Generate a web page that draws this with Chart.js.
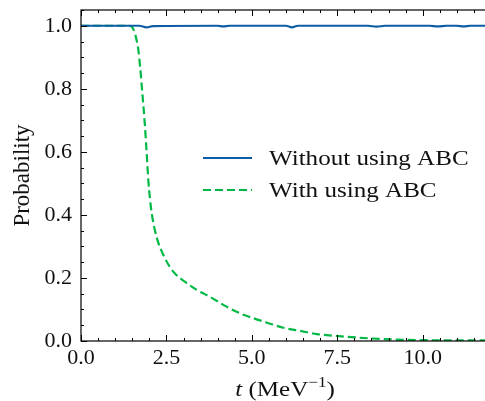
<!DOCTYPE html>
<html>
<head>
<meta charset="utf-8">
<script src="https://cdn.jsdelivr.net/npm/chart.js@4/dist/chart.umd.min.js"></script>
<style>
  html, body { margin: 0; padding: 0; background: #fff; overflow: hidden; }
  #wrap { width: 500px; height: 401px; }
</style>
</head>
<body>
<div id="wrap"><canvas id="probChart" width="500" height="401"></canvas></div>
<script>
// data
const tBlue = [0, 1.7, 1.92, 2.1, 4.0, 4.16, 4.35, 6.0, 6.17, 6.35, 8.4, 8.65, 8.9, 10.2, 10.45, 10.7, 11.0, 11.2, 11.4, 12]
const pBlue = [1.0, 1.0, 0.995, 0.999, 1.0, 0.998, 1.0, 1.0, 0.995, 1.0, 1.0, 0.997, 1.0, 1.0, 0.998, 1.0, 1.0, 0.998, 1.0, 1.0]

const tGreen = [0, 1.4, 1.5, 1.58, 1.68, 1.73, 1.8, 1.86, 1.92, 1.97, 2.02, 2.07, 2.21, 2.46, 2.7, 3.04, 3.39, 3.78, 4.26, 4.65, 5.0, 5.45, 5.92, 6.41, 6.9, 7.48, 8.07, 8.85, 9.82, 11.3, 12]
const pGreen = [1.0, 1.0, 0.995, 0.975, 0.922, 0.87, 0.78, 0.7, 0.6, 0.51, 0.45, 0.405, 0.331, 0.262, 0.22, 0.188, 0.162, 0.14, 0.109, 0.088, 0.074, 0.058, 0.042, 0.032, 0.022, 0.016, 0.011, 0.006, 0.003, 0.002, 0.002]

const xTicks = [0, 2.5, 5, 7.5, 10]
const yTicks = [0, 0.2, 0.4, 0.6, 0.8, 1.0]
const seriesLabels = ['Without using ABC', 'With using ABC']

const FONT = '"Liberation Serif", "Times New Roman", serif'
const STRETCH = 1.14 // Computer Modern is wider than Times

const toPoints = (xs, ys) => xs.map((x, i) => ({ x, y: ys[i] }))

// inside ticks on all four sides + frame
const frameTicks = {
  id: 'frameTicks',
  afterDatasetsDraw(chart) {
    const { ctx, chartArea: a, scales } = chart
    const xs = scales.x
    const ys = scales.y
    ctx.save()
    ctx.strokeStyle = '#000'
    ctx.lineWidth = 1.2
    ctx.strokeRect(a.left, a.top, a.right - a.left, a.bottom - a.top)

    const tick = (x1, y1, x2, y2) => {
      ctx.beginPath()
      ctx.moveTo(x1, y1)
      ctx.lineTo(x2, y2)
      ctx.stroke()
    }
    ctx.lineWidth = 1
    for (let v = xs.min; v <= xs.max + 1e-9; v += 0.5) {
      const px = Math.round(xs.getPixelForValue(v)) + 0.5
      const major = Math.abs(v / 2.5 - Math.round(v / 2.5)) < 1e-6
      const len = major ? 6 : 3
      tick(px, a.bottom, px, a.bottom - len)
      tick(px, a.top, px, a.top + len)
    }
    for (let v = ys.min; v <= ys.max + 1e-9; v += 0.05) {
      const py = Math.round(ys.getPixelForValue(v)) + 0.5
      const major = Math.abs(v / 0.2 - Math.round(v / 0.2)) < 1e-6
      const len = major ? 6 : 3
      tick(a.left, py, a.left + len, py)
      tick(a.right, py, a.right - len, py)
    }
    ctx.restore()
  },
}

const stretchedText = (ctx, text, x, y) => {
  ctx.save()
  ctx.translate(x, y)
  ctx.scale(STRETCH, 1)
  ctx.fillText(text, 0, 0)
  ctx.restore()
}

// legend drawn inside the plot, matplotlib style
const innerLegend = {
  id: 'innerLegend',
  afterDraw(chart) {
    const { ctx } = chart
    ctx.save()
    ctx.font = '22px ' + FONT
    ctx.textBaseline = 'middle'
    ctx.fillStyle = '#111'
    chart.data.datasets.forEach((ds, i) => {
      const y = 158 + i * 32
      ctx.strokeStyle = ds.borderColor
      ctx.lineWidth = ds.borderWidth
      ctx.setLineDash(ds.borderDash || [])
      ctx.beginPath()
      ctx.moveTo(203, y)
      ctx.lineTo(252, y)
      ctx.stroke()
      ctx.setLineDash([])
      stretchedText(ctx, ds.label, 269, y + 1)
    })
    ctx.restore()
  },
}

// x axis title with italic t and superscript
const xTitle = {
  id: 'xTitle',
  afterDraw(chart) {
    const { ctx } = chart
    const base = 396
    const parts = [
      { text: 't', font: 'italic 22px ' + FONT, dy: 0 },
      { text: ' (MeV', font: '22px ' + FONT, dy: 0 },
      { text: '\u22121', font: '15px ' + FONT, dy: -9 },
      { text: ')', font: '22px ' + FONT, dy: 0 },
    ]
    ctx.save()
    ctx.fillStyle = '#111'
    ctx.textBaseline = 'alphabetic'
    let total = 0
    parts.forEach((p) => {
      ctx.font = p.font
      p.w = ctx.measureText(p.text).width * STRETCH
      total += p.w
    })
    let x = 285 - total / 2
    parts.forEach((p) => {
      ctx.font = p.font
      stretchedText(ctx, p.text, x, base + p.dy)
      x += p.w
    })
    ctx.restore()
  },
}

new Chart(document.getElementById('probChart'), {
  type: 'line',
  data: {
    datasets: [
      {
        label: seriesLabels[0],
        data: toPoints(tBlue, pBlue),
        borderColor: '#0C5DA5',
        borderWidth: 2.2,
        pointRadius: 0,
        cubicInterpolationMode: 'monotone',
      },
      {
        label: seriesLabels[1],
        data: toPoints(tGreen, pGreen),
        borderColor: '#00B945',
        borderWidth: 2.2,
        borderDash: [8, 4],
        pointRadius: 0,
        cubicInterpolationMode: 'monotone',
      },
    ],
  },
  options: {
    responsive: false,
    animation: false,
    layout: { padding: { left: 0, right: 9, top: 10, bottom: 0 } },
    plugins: {
      legend: { display: false },
      tooltip: { enabled: false },
    },
    scales: {
      x: {
        type: 'linear',
        min: 0,
        max: 12,
        grid: { display: false, drawTicks: false },
        border: { display: false },
        afterBuildTicks: (s) => { s.ticks = xTicks.map((v) => ({ value: v })) },
        afterFit: (s) => {
          s.height = 60
          s.paddingLeft = 0
          s.paddingRight = 0
        },
        ticks: {
          padding: 4,
          color: '#111',
          font: { family: FONT, size: 22 },
          maxRotation: 0,
          callback: (v) => v.toFixed(1),
        },
      },
      y: {
        min: 0,
        max: 1.05,
        grid: { display: false, drawTicks: false },
        border: { display: false },
        afterBuildTicks: (s) => { s.ticks = yTicks.map((v) => ({ value: v })) },
        afterFit: (s) => {
          s.width = 81
          s.paddingTop = 0
          s.paddingBottom = 0
        },
        ticks: {
          padding: 9,
          color: '#111',
          font: { family: FONT, size: 22 },
          callback: (v) => v.toFixed(1),
        },
        title: {
          display: true,
          text: 'Probability',
          color: '#111',
          font: { family: FONT, size: 23 },
          padding: { top: 9, bottom: 0 },
        },
      },
    },
  },
  plugins: [frameTicks, innerLegend, xTitle],
})
</script>
</body>
</html>
